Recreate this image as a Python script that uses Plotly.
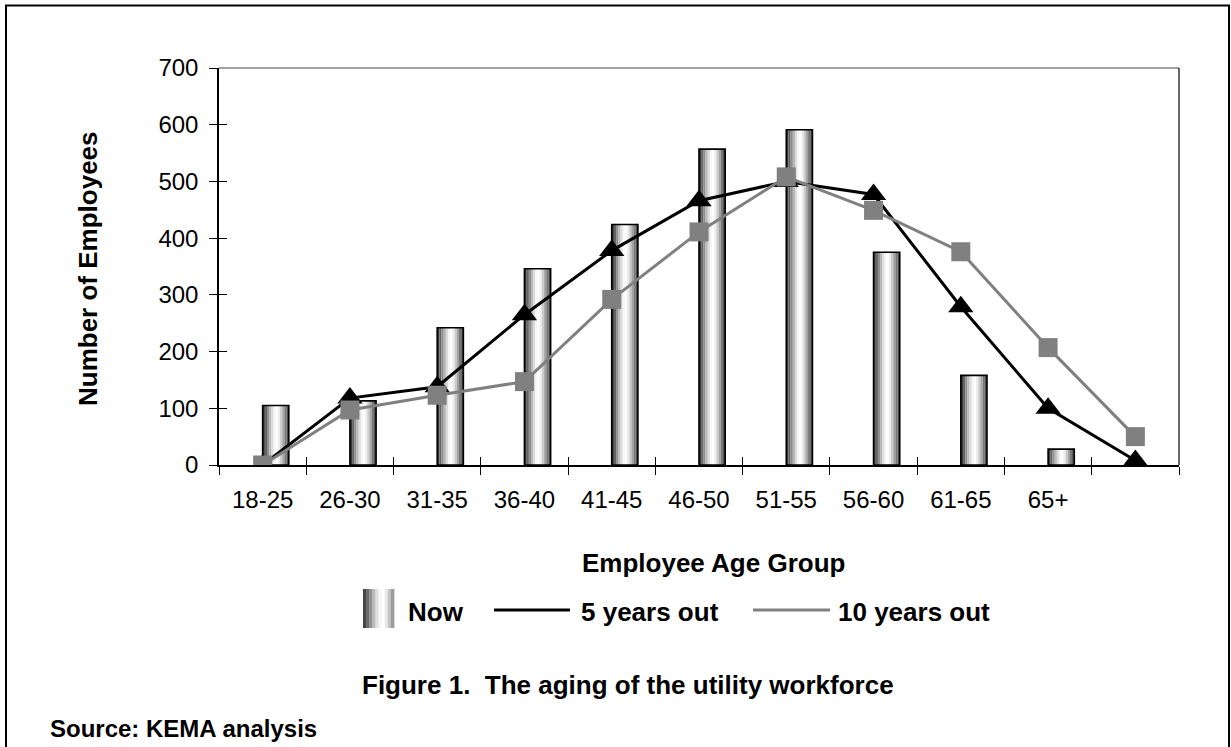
import plotly.graph_objects as go

# ---------------- data ----------------
categories = ["18-25", "26-30", "31-35", "36-40", "41-45", "46-50",
              "51-55", "56-60", "61-65", "65+", " "]
now_values = [105, 113, 242, 346, 424, 557, 591, 375, 158, 28]
five_years_out = [0, 118, 138, 265, 378, 466, 500, 477, 279, 100, 8]
ten_years_out = [0, 97, 123, 147, 292, 411, 508, 449, 376, 207, 50]
y_ticks = [0, 100, 200, 300, 400, 500, 600, 700]

# ---------------- layout geometry (reference pixels) ----------------
W, H = 1231, 747
L, R, T, B = 219, 52, 68, 282  # plot area margins in pixels
PW = W - L - R
PH = H - T - B


def px(x):
    return (x - L) / PW


def py(y):
    return (H - B - y) / PH


FONT = "Liberation Sans, Arial, Helvetica, sans-serif"

# cylinder-like shading of the bars (left -> right)
stripe_colors = ["#3a3a3a", "#646464", "#8f8f8f", "#b8b8b8", "#dcdcdc", "#f6f6f6",
                 "#ffffff", "#ececec", "#cbcbcb", "#a2a2a2", "#787878", "#4e4e4e"]
bar_w = 0.3
sw = bar_w / len(stripe_colors)
bar_x = categories[:len(now_values)]

fig = go.Figure()
for i, c in enumerate(stripe_colors):
    fig.add_trace(go.Bar(
        x=bar_x, y=now_values, offset=i * sw, width=sw * 1.02,
        marker=dict(color=c, line=dict(width=0)),
        showlegend=False, hoverinfo="skip"))
fig.add_trace(go.Bar(
    x=bar_x, y=now_values, offset=0, width=bar_w, name="Now",
    marker=dict(color="rgba(0,0,0,0)", line=dict(color="black", width=1.6)),
    showlegend=False))
fig.add_trace(go.Scatter(
    x=categories, y=five_years_out, name="5 years out", mode="lines+markers",
    line=dict(color="black", width=3),
    marker=dict(symbol="triangle-up", size=22, color="black"),
    showlegend=False))
fig.add_trace(go.Scatter(
    x=categories, y=ten_years_out, name="10 years out", mode="lines+markers",
    xaxis="x2", yaxis="y2",
    line=dict(color="#808080", width=3),
    marker=dict(symbol="square", size=19, color="#808080"),
    showlegend=False))

axis_common = dict(showgrid=False, zeroline=False)
fig.update_layout(
    width=W, height=H,
    margin=dict(l=L, r=R, t=T, b=B, pad=0),
    paper_bgcolor="white", plot_bgcolor="white",
    barmode="overlay",
    font=dict(family=FONT, color="black"),
    xaxis=dict(type="category", categoryorder="array", categoryarray=categories,
               range=[-0.5, len(categories) - 0.5], tickson="boundaries",
               ticks="outside", ticklen=8, tickwidth=1, tickcolor="black",
               ticklabelstandoff=12,
               showline=True, linecolor="black", linewidth=1.5,
               tickfont=dict(size=24, family=FONT, color="black"), **axis_common),
    yaxis=dict(range=[0, 700], tickvals=y_ticks, ticks="outside", ticklen=8,
               tickwidth=1, tickcolor="black", showline=True, linecolor="black",
               ticklabelstandoff=6,
               linewidth=1.5, tickfont=dict(size=24, family=FONT, color="black"),
               **axis_common),
    xaxis2=dict(type="category", categoryorder="array", categoryarray=categories,
                range=[-0.5, len(categories) - 0.5], tickson="boundaries",
                overlaying="x", anchor="y2", side="bottom",
                ticks="inside", ticklen=8, tickwidth=1, tickcolor="black",
                showticklabels=False, showline=False, **axis_common),
    yaxis2=dict(range=[0, 700], tickvals=y_ticks, overlaying="y", anchor="x2",
                side="left", ticks="inside", ticklen=8, tickwidth=1,
                tickcolor="black", showticklabels=False, showline=False,
                **axis_common),
)

shapes = []
# plot-area top (gray) and right (black) borders
shapes.append(dict(type="line", xref="paper", yref="paper", x0=0, x1=1, y0=1, y1=1,
                   line=dict(color="#808080", width=1.5)))
shapes.append(dict(type="line", xref="paper", yref="paper", x0=1, x1=1, y0=0, y1=1,
                   line=dict(color="black", width=1.2)))
# outer frame
shapes.append(dict(type="rect", xref="paper", yref="paper",
                   x0=px(6), x1=px(1229), y0=py(800), y1=py(5.5),
                   line=dict(color="black", width=2), fillcolor="rgba(0,0,0,0)"))
# legend swatch for "Now" (horizontal cylinder shading)
sw_colors = ["#454545", "#6a6a6a", "#929292", "#bbbbbb", "#e0e0e0", "#f8f8f8",
             "#ffffff", "#e8e8e8", "#c4c4c4", "#9d9d9d"]
sx0, sx1, sy0, sy1 = 363, 394, 589, 628
step = (sx1 - sx0) / len(sw_colors)
for i, c in enumerate(sw_colors):
    shapes.append(dict(type="rect", xref="paper", yref="paper",
                       x0=px(sx0 + i * step), x1=px(sx0 + (i + 1) * step + 0.4),
                       y0=py(sy1), y1=py(sy0), line=dict(width=0), fillcolor=c))
# legend lines
shapes.append(dict(type="line", xref="paper", yref="paper",
                   x0=px(494), x1=px(570), y0=py(610), y1=py(610),
                   line=dict(color="black", width=3)))
shapes.append(dict(type="line", xref="paper", yref="paper",
                   x0=px(753), x1=px(830), y0=py(610), y1=py(610),
                   line=dict(color="#808080", width=3)))
fig.update_layout(shapes=shapes)

ann = []


def add_text(text, x, y, size=26, xanchor="center", angle=0):
    ann.append(dict(text=text, x=px(x), y=py(y), xref="paper", yref="paper",
                    showarrow=False, xanchor=xanchor, yanchor="middle",
                    textangle=angle, font=dict(size=size, family=FONT, color="black")))


add_text("<b>Number of Employees</b>", 88, 269, angle=-90)
add_text("<b>Employee Age Group</b>", 713, 563)
add_text("<b>Now</b>", 406, 612, xanchor="left")
add_text("<b>5 years out</b>", 579, 612, xanchor="left")
add_text("<b>10 years out</b>", 836, 612, xanchor="left")
add_text("<b>Figure 1.&nbsp; The aging of the utility workforce</b>", 628, 685)
add_text("<b>Source: KEMA analysis</b>", 48, 728, size=24, xanchor="left")
fig.update_layout(annotations=ann)

# remove the browser's default 8px page margin so the figure sits at (0, 0)
fig.write_html(
    "out.html",
    config={"displayModeBar": False},
    post_script="document.body.style.margin='0px';document.body.style.overflow='hidden';",
)
